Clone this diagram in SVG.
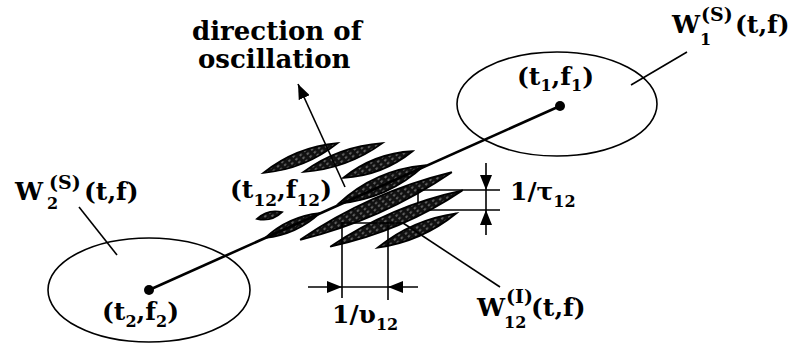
<svg xmlns="http://www.w3.org/2000/svg" width="797" height="343" viewBox="0 0 797 343">
<style>
.t{font-family:"DejaVu Serif","Liberation Serif",serif;font-weight:bold;font-size:25px;fill:#000}
.s{font-size:16px}
.sup{font-size:19px}
.big{font-size:26px}
.ln{stroke:#000;stroke-width:1.6;fill:none}
.main{stroke:#000;stroke-width:2.6;fill:none}
.ell{stroke:#000;stroke-width:1.6;fill:none}
.streak{fill:url(#hatch);stroke:#000;stroke-width:1.8}
.ah{fill:#000}
</style>
<defs>
<pattern id="hatch" width="6" height="4" patternUnits="userSpaceOnUse" patternTransform="rotate(-23)">
<rect width="6" height="4" fill="#111"/>
<line x1="1" y1="2" x2="3.5" y2="2" stroke="#aaa" stroke-width="1"/>
</pattern>
<marker id="arr" markerWidth="16" markerHeight="12" refX="15" refY="6" orient="auto" markerUnits="userSpaceOnUse">
<path d="M0,0 L15,6 L0,12 Z" fill="#000"/>
</marker>
</defs>
<rect width="797" height="343" fill="#fff"/>

<g id="region-w2">
<ellipse class="ell" cx="149" cy="290" rx="101" ry="52"/>
<circle cx="149" cy="290" r="5"/>
<text class="t" x="102" y="320">(t<tspan class="s" dy="7">2</tspan><tspan dy="-7">,f</tspan><tspan class="s" dy="7">2</tspan><tspan dy="-7">)</tspan></text>
</g>

<g id="region-w1">
<ellipse class="ell" cx="557" cy="104" rx="100" ry="52"/>
<circle cx="560" cy="106" r="5"/>
<text class="t" x="517" y="85">(t<tspan class="s" dy="6">1</tspan><tspan dy="-6">,f</tspan><tspan class="s" dy="6">1</tspan><tspan dy="-6">)</tspan></text>
</g>

<g id="cross-terms">
<path class="streak" transform="translate(300.5,158) rotate(-21.8)" d="M-40,0 Q0,-12 40,0 Q0,12 -40,0 Z"/>
<path class="streak" transform="translate(343,157.5) rotate(-20)" d="M-42,0 Q0,-12 42,0 Q0,12 -42,0 Z"/>
<path class="streak" transform="translate(378,164.5) rotate(-21)" d="M-37,0 Q0,-12 37,0 Q0,12 -37,0 Z"/>
<path class="streak" transform="translate(381.5,184.5) rotate(-24)" d="M-47,0 Q0,-16 47,0 Q0,16 -47,0 Z"/>
<path class="streak" transform="translate(376,206) rotate(-24)" d="M-83,0 Q0,-15 83,0 Q0,15 -83,0 Z"/>
<path class="streak" transform="translate(396.5,218.5) rotate(-23)" d="M-72,0 Q0,-14 72,0 Q0,14 -72,0 Z"/>
<path class="streak" transform="translate(417,230.5) rotate(-23.6)" d="M-43,0 Q0,-12 43,0 Q0,12 -43,0 Z"/>
<path class="streak" transform="translate(269.5,215.5) rotate(-15)" d="M-13,0 Q0,-7 13,0 Q0,7 -13,0 Z"/>
<path class="streak" transform="translate(292.5,225.5) rotate(-24.4)" d="M-30,0 Q0,-10 30,0 Q0,10 -30,0 Z"/>
<text class="t" x="230" y="198">(t<tspan font-size="17" dy="8">12</tspan><tspan dy="-8">,f</tspan><tspan font-size="17" dy="8">12</tspan><tspan dy="-8">)</tspan></text>
</g>

<g id="connectors">
<line class="main" x1="149" y1="290" x2="560" y2="106"/>
<line class="ln" x1="345" y1="187" x2="298" y2="84" stroke-width="2" marker-end="url(#arr)"/>
<line class="ln" x1="687" y1="52" x2="631" y2="85"/>
<line class="ln" x1="79" y1="207" x2="117" y2="255"/>
<line class="ln" x1="342" y1="223" x2="403" y2="223"/>
<line class="ln" x1="403" y1="223" x2="500" y2="287"/>
</g>

<g id="dim-nu">
<line class="ln" x1="342" y1="222" x2="342" y2="298"/>
<line class="ln" x1="388" y1="222" x2="388" y2="300"/>
<line class="ln" x1="308" y1="287" x2="418" y2="287"/>
<path class="ah" d="M342,287 L327,281 L327,293 Z"/>
<path class="ah" d="M388,287 L403,281 L403,293 Z"/>
<text class="t" x="332" y="323">1/υ<tspan class="s" dy="7">12</tspan></text>
</g>

<g id="dim-tau">
<line class="ln" x1="417" y1="190" x2="500" y2="190"/>
<line class="ln" x1="430" y1="210" x2="500" y2="210"/>
<line class="ln" x1="418" y1="190" x2="418" y2="203"/>
<line class="ln" x1="486" y1="163" x2="486" y2="235"/>
<path class="ah" d="M486,190 L480,175 L492,175 Z"/>
<path class="ah" d="M486,210 L480,225 L492,225 Z"/>
<text class="t" x="510" y="200">1/τ<tspan class="s" dy="7">12</tspan></text>
</g>

<g id="labels">
<text class="t big" x="192" y="40">direction of</text>
<text class="t big" x="198" y="68">oscillation</text>
<text class="t" x="672" y="33">W</text>
<text class="t s" x="700" y="45">1</text>
<text class="t sup" x="701" y="21">(S)</text>
<text class="t" x="735" y="33">(t,f)</text>
<text class="t" x="15" y="200">W</text>
<text class="t s" x="47" y="209">2</text>
<text class="t sup" x="49" y="189">(S)</text>
<text class="t" x="84" y="200">(t,f)</text>
<text class="t" x="477" y="316">W</text>
<text class="t s" x="504" y="328">12</text>
<text class="t sup" x="506" y="303">(I)</text>
<text class="t" x="531" y="316">(t,f)</text>
</g>
</svg>
